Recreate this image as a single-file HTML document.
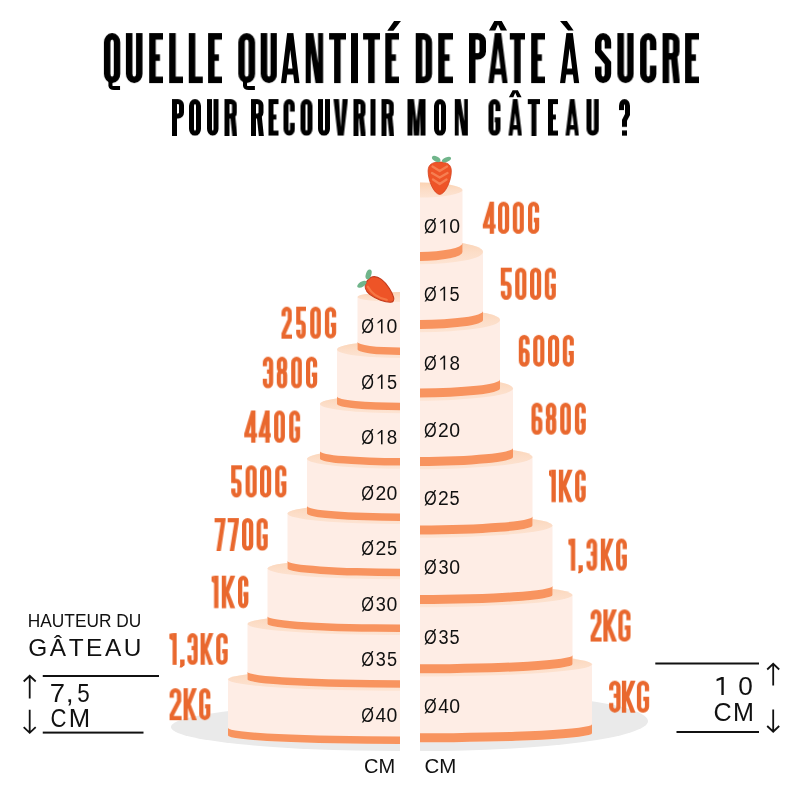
<!DOCTYPE html>
<html><head><meta charset="utf-8"><style>
html,body{margin:0;padding:0;background:#fff;}
svg{display:block;}
text{font-family:"Liberation Sans", sans-serif;}
svg{will-change:transform;}
</style></head><body>
<svg width="800" height="800" viewBox="0 0 800 800">
<rect width="800" height="800" fill="#fff"/>
<defs>
<clipPath id="cl"><rect x="0" y="0" width="400" height="800"/></clipPath>
<clipPath id="cr"><rect x="420" y="0" width="380" height="800"/></clipPath>
<linearGradient id="tg" x1="0" y1="0" x2="0" y2="1"><stop offset="0" stop-color="#fbd3b3"/><stop offset="0.5" stop-color="#fcddc7"/><stop offset="1" stop-color="#fde4d3"/></linearGradient>
</defs>
<g clip-path="url(#cl)"><ellipse cx="400" cy="727" rx="229" ry="24" fill="#eaeaea"/></g>
<g clip-path="url(#cr)"><ellipse cx="420" cy="721" rx="228" ry="30" fill="#eaeaea"/></g>
<g clip-path="url(#cl)">
<path d="M228.00 679.50 L228.00 735.60 A172.00 8.40 0 0 0 572.00 735.60 L572.00 679.50 A172.00 11.34 0 0 0 228.00 679.50Z" fill="#feede5"/>
<ellipse cx="400.00" cy="679.50" rx="172.00" ry="11.34" fill="url(#tg)"/>
<path d="M228.00 728.10 L228.00 735.60 A172.00 8.40 0 0 0 572.00 735.60 L572.00 728.10 A172.00 8.40 0 0 1 228.00 728.10Z" fill="#f8945f"/>
<path d="M247.50 624.00 L247.50 679.50 A152.50 8.20 0 0 0 552.50 679.50 L552.50 624.00 A152.50 11.07 0 0 0 247.50 624.00Z" fill="#feede5"/>
<ellipse cx="400.00" cy="624.00" rx="152.50" ry="11.07" fill="url(#tg)"/>
<path d="M247.50 672.00 L247.50 679.50 A152.50 8.20 0 0 0 552.50 679.50 L552.50 672.00 A152.50 8.20 0 0 1 247.50 672.00Z" fill="#f8945f"/>
<path d="M267.50 568.50 L267.50 624.00 A132.50 8.00 0 0 0 532.50 624.00 L532.50 568.50 A132.50 10.80 0 0 0 267.50 568.50Z" fill="#feede5"/>
<ellipse cx="400.00" cy="568.50" rx="132.50" ry="10.80" fill="url(#tg)"/>
<path d="M267.50 616.50 L267.50 624.00 A132.50 8.00 0 0 0 532.50 624.00 L532.50 616.50 A132.50 8.00 0 0 1 267.50 616.50Z" fill="#f8945f"/>
<path d="M287.50 513.60 L287.50 568.50 A112.50 7.70 0 0 0 512.50 568.50 L512.50 513.60 A112.50 10.40 0 0 0 287.50 513.60Z" fill="#feede5"/>
<ellipse cx="400.00" cy="513.60" rx="112.50" ry="10.40" fill="url(#tg)"/>
<path d="M287.50 561.00 L287.50 568.50 A112.50 7.70 0 0 0 512.50 568.50 L512.50 561.00 A112.50 7.70 0 0 1 287.50 561.00Z" fill="#f8945f"/>
<path d="M307.00 458.80 L307.00 513.60 A93.00 7.30 0 0 0 493.00 513.60 L493.00 458.80 A93.00 9.86 0 0 0 307.00 458.80Z" fill="#feede5"/>
<ellipse cx="400.00" cy="458.80" rx="93.00" ry="9.86" fill="url(#tg)"/>
<path d="M307.00 506.10 L307.00 513.60 A93.00 7.30 0 0 0 493.00 513.60 L493.00 506.10 A93.00 7.30 0 0 1 307.00 506.10Z" fill="#f8945f"/>
<path d="M320.00 404.00 L320.00 458.80 A80.00 6.80 0 0 0 480.00 458.80 L480.00 404.00 A80.00 9.18 0 0 0 320.00 404.00Z" fill="#feede5"/>
<ellipse cx="400.00" cy="404.00" rx="80.00" ry="9.18" fill="url(#tg)"/>
<path d="M320.00 451.30 L320.00 458.80 A80.00 6.80 0 0 0 480.00 458.80 L480.00 451.30 A80.00 6.80 0 0 1 320.00 451.30Z" fill="#f8945f"/>
<path d="M337.00 349.50 L337.00 404.00 A63.00 6.30 0 0 0 463.00 404.00 L463.00 349.50 A63.00 8.51 0 0 0 337.00 349.50Z" fill="#feede5"/>
<ellipse cx="400.00" cy="349.50" rx="63.00" ry="8.51" fill="url(#tg)"/>
<path d="M337.00 396.50 L337.00 404.00 A63.00 6.30 0 0 0 463.00 404.00 L463.00 396.50 A63.00 6.30 0 0 1 337.00 396.50Z" fill="#f8945f"/>
<path d="M357.50 297.00 L357.50 349.50 A42.50 5.50 0 0 0 442.50 349.50 L442.50 297.00 A42.50 5.00 0 0 0 357.50 297.00Z" fill="#feede5"/>
<ellipse cx="400.00" cy="297.00" rx="42.50" ry="5.00" fill="url(#tg)"/>
<path d="M357.50 342.00 L357.50 349.50 A42.50 5.50 0 0 0 442.50 349.50 L442.50 342.00 A42.50 5.50 0 0 1 357.50 342.00Z" fill="#f8945f"/>
</g>
<g clip-path="url(#cr)">
<path d="M248.00 664.30 L248.00 733.30 A172.00 9.00 0 0 0 592.00 733.30 L592.00 664.30 A172.00 12.15 0 0 0 248.00 664.30Z" fill="#feede5"/>
<ellipse cx="420.00" cy="664.30" rx="172.00" ry="12.15" fill="url(#tg)"/>
<path d="M248.00 724.30 L248.00 733.30 A172.00 9.00 0 0 0 592.00 733.30 L592.00 724.30 A172.00 9.00 0 0 1 248.00 724.30Z" fill="#f8945f"/>
<path d="M267.50 595.00 L267.50 664.30 A152.50 9.00 0 0 0 572.50 664.30 L572.50 595.00 A152.50 12.15 0 0 0 267.50 595.00Z" fill="#feede5"/>
<ellipse cx="420.00" cy="595.00" rx="152.50" ry="12.15" fill="url(#tg)"/>
<path d="M267.50 655.30 L267.50 664.30 A152.50 9.00 0 0 0 572.50 664.30 L572.50 655.30 A152.50 9.00 0 0 1 267.50 655.30Z" fill="#f8945f"/>
<path d="M287.50 525.50 L287.50 595.00 A132.50 9.00 0 0 0 552.50 595.00 L552.50 525.50 A132.50 12.15 0 0 0 287.50 525.50Z" fill="#feede5"/>
<ellipse cx="420.00" cy="525.50" rx="132.50" ry="12.15" fill="url(#tg)"/>
<path d="M287.50 586.00 L287.50 595.00 A132.50 9.00 0 0 0 552.50 595.00 L552.50 586.00 A132.50 9.00 0 0 1 287.50 586.00Z" fill="#f8945f"/>
<path d="M307.50 457.00 L307.50 525.50 A112.50 9.00 0 0 0 532.50 525.50 L532.50 457.00 A112.50 12.15 0 0 0 307.50 457.00Z" fill="#feede5"/>
<ellipse cx="420.00" cy="457.00" rx="112.50" ry="12.15" fill="url(#tg)"/>
<path d="M307.50 516.50 L307.50 525.50 A112.50 9.00 0 0 0 532.50 525.50 L532.50 516.50 A112.50 9.00 0 0 1 307.50 516.50Z" fill="#f8945f"/>
<path d="M327.00 388.50 L327.00 457.00 A93.00 9.00 0 0 0 513.00 457.00 L513.00 388.50 A93.00 12.15 0 0 0 327.00 388.50Z" fill="#feede5"/>
<ellipse cx="420.00" cy="388.50" rx="93.00" ry="12.15" fill="url(#tg)"/>
<path d="M327.00 448.00 L327.00 457.00 A93.00 9.00 0 0 0 513.00 457.00 L513.00 448.00 A93.00 9.00 0 0 1 327.00 448.00Z" fill="#f8945f"/>
<path d="M340.00 320.00 L340.00 388.50 A80.00 9.00 0 0 0 500.00 388.50 L500.00 320.00 A80.00 12.15 0 0 0 340.00 320.00Z" fill="#feede5"/>
<ellipse cx="420.00" cy="320.00" rx="80.00" ry="12.15" fill="url(#tg)"/>
<path d="M340.00 379.50 L340.00 388.50 A80.00 9.00 0 0 0 500.00 388.50 L500.00 379.50 A80.00 9.00 0 0 1 340.00 379.50Z" fill="#f8945f"/>
<path d="M357.00 252.00 L357.00 320.00 A63.00 9.00 0 0 0 483.00 320.00 L483.00 252.00 A63.00 12.15 0 0 0 357.00 252.00Z" fill="#feede5"/>
<ellipse cx="420.00" cy="252.00" rx="63.00" ry="12.15" fill="url(#tg)"/>
<path d="M357.00 311.00 L357.00 320.00 A63.00 9.00 0 0 0 483.00 320.00 L483.00 311.00 A63.00 9.00 0 0 1 357.00 311.00Z" fill="#f8945f"/>
<path d="M377.50 190.00 L377.50 252.00 A42.50 9.00 0 0 0 462.50 252.00 L462.50 190.00 A42.50 7.50 0 0 0 377.50 190.00Z" fill="#feede5"/>
<ellipse cx="420.00" cy="190.00" rx="42.50" ry="7.50" fill="url(#tg)"/>
<path d="M377.50 243.00 L377.50 252.00 A42.50 9.00 0 0 0 462.50 252.00 L462.50 243.00 A42.50 9.00 0 0 1 377.50 243.00Z" fill="#f8945f"/>
</g>
<g transform="translate(367.34 280.69) rotate(37)"><path d="M0 0 C0 -6.5 4.5 -9.5 10.5 -9.5 C18 -9.5 27 -5.5 31 -2.5 C33.5 -0.7 33.5 1.7 31.5 3.3 C27.5 6.5 18 9.5 10.5 9.5 C4.5 9.5 0 6.5 0 0Z" fill="#ee5427" stroke="#c23a1c" stroke-width="1.1"/><path d="M4 4.5 C11 7.5 20 7 27 3.5" fill="none" stroke="#f7824f" stroke-width="2.2" stroke-linecap="round" opacity="0.75"/></g>
<ellipse cx="368.6" cy="274.4" rx="2.7" ry="5.1" transform="rotate(18 368.6 274.4)" fill="#70b58b"/>
<ellipse cx="361.9" cy="284.2" rx="5.3" ry="2.6" transform="rotate(-32 361.9 284.2)" fill="#70b58b"/>
<path d="M439.7 162 C447 162 451.3 164.5 451.3 171 C451.3 181 445 194.4 439.7 194.4 C434.3 194.4 428.1 181 428.1 171 C428.1 164.5 432.4 162 439.7 162Z" fill="#ee5427" stroke="#d4421f" stroke-width="0.8"/>
<path d="M432.5 166.5 L439.7 171 L447 166.5 M432 173 L439.7 177.5 L447.5 173 M433 179.5 L439.7 184 L446.5 179.5" fill="none" stroke="#f7895c" stroke-width="2.3" stroke-linecap="round" stroke-linejoin="round" opacity="0.8"/>
<ellipse cx="436.2" cy="159" rx="4.6" ry="2.5" transform="rotate(28 436.2 159)" fill="#70b58b"/>
<ellipse cx="446.5" cy="159.6" rx="4.8" ry="2.3" transform="rotate(-22 446.5 159.6)" fill="#70b58b"/>
<svg x="103.9" y="33.1" width="16.35" height="50" overflow="hidden"><g fill="none" stroke="#000" stroke-width="6.5" stroke-linejoin="miter" stroke-miterlimit="10"><path d="M3.25 9.3 A4.92 6.05 0 0 1 13.1 9.3 V40.7 A4.92 6.05 0 0 1 3.25 40.7 Z"/></g></svg><path d="M110.44 80.6 V85.7 Q110.77 88 114.04 88 H120.05" fill="none" stroke="#000" stroke-width="4.03"/>
<svg x="125.9" y="33.1" width="16.6" height="50" overflow="hidden"><g fill="none" stroke="#000" stroke-width="6.5" stroke-linejoin="miter" stroke-miterlimit="10"><path d="M3.25 -6.5 V40.7 A5.05 6.05 0 0 0 13.35 40.7 V-6.5"/></g></svg>
<svg x="149.2" y="33.1" width="13.6" height="50" overflow="hidden"><g fill="none" stroke="#000" stroke-width="6.5" stroke-linejoin="miter" stroke-miterlimit="10"><path d="M20.1 3.25 H3.25 V46.75 H20.1"/><path d="M3.25 24.5 H10.74"/></g></svg>
<svg x="169.2" y="33.1" width="13.8" height="50" overflow="hidden"><g fill="none" stroke="#000" stroke-width="6.5" stroke-linejoin="miter" stroke-miterlimit="10"><path d="M3.25 -6.5 V46.75 H20.3"/></g></svg>
<svg x="188.8" y="33.1" width="13.7" height="50" overflow="hidden"><g fill="none" stroke="#000" stroke-width="6.5" stroke-linejoin="miter" stroke-miterlimit="10"><path d="M3.25 -6.5 V46.75 H20.2"/></g></svg>
<svg x="208.1" y="33.1" width="13.7" height="50" overflow="hidden"><g fill="none" stroke="#000" stroke-width="6.5" stroke-linejoin="miter" stroke-miterlimit="10"><path d="M20.2 3.25 H3.25 V46.75 H20.2"/><path d="M3.25 24.5 H10.82"/></g></svg>
<svg x="238.3" y="33.1" width="16.8" height="50" overflow="hidden"><g fill="none" stroke="#000" stroke-width="6.5" stroke-linejoin="miter" stroke-miterlimit="10"><path d="M3.25 9.3 A5.15 6.05 0 0 1 13.55 9.3 V40.7 A5.15 6.05 0 0 1 3.25 40.7 Z"/></g></svg><path d="M245.02 80.6 V85.7 Q245.36 88 248.72 88 H254.9" fill="none" stroke="#000" stroke-width="4.03"/>
<svg x="260.7" y="33.1" width="16.3" height="50" overflow="hidden"><g fill="none" stroke="#000" stroke-width="6.5" stroke-linejoin="miter" stroke-miterlimit="10"><path d="M3.25 -6.5 V40.7 A4.9 6.05 0 0 0 13.05 40.7 V-6.5"/></g></svg>
<svg x="281" y="33.1" width="18.5" height="50" overflow="hidden"><g fill="#000"><path fill-rule="evenodd" d="M0 50 L6.11 0 L12.39 0 L18.5 50 Z M6.24 41.5 L12.26 41.5 L13.3 50.01 L5.2 50.01 Z M6.97 35.5 L11.53 35.5 L9.25 16.83 Z"/></g></svg>
<svg x="305.7" y="33.1" width="17.4" height="50" overflow="hidden"><g fill="#000"><polygon points="0,0 7.66,0 12.35,30 12.35,0 17.4,0 17.4,50 9.74,50 5.05,20 5.05,50 0,50"/></g></svg>
<svg x="329.1" y="33.1" width="16.5" height="50" overflow="hidden"><g fill="none" stroke="#000" stroke-width="6.5" stroke-linejoin="miter" stroke-miterlimit="10"><path d="M-6.5 3.25 H23"/><path d="M8.25 0 V56.5"/></g></svg>
<svg x="351" y="33.1" width="7" height="50" overflow="hidden"><g fill="#000"><rect x="0" y="0" width="7" height="50"/></g></svg>
<svg x="363.1" y="33.1" width="16.6" height="50" overflow="hidden"><g fill="none" stroke="#000" stroke-width="6.5" stroke-linejoin="miter" stroke-miterlimit="10"><path d="M-6.5 3.25 H23.1"/><path d="M8.3 0 V56.5"/></g></svg>
<svg x="385.3" y="33.1" width="13.5" height="50" overflow="hidden"><g fill="none" stroke="#000" stroke-width="6.5" stroke-linejoin="miter" stroke-miterlimit="10"><path d="M20 3.25 H3.25 V46.75 H20"/><path d="M3.25 24.5 H10.67"/></g></svg><polygon points="394.07,21 400.96,21 393.4,30.75 387.32,30.75" fill="#000"/>
<svg x="415.75" y="33.1" width="16.35" height="50" overflow="hidden"><g fill="none" stroke="#000" stroke-width="6.5" stroke-linejoin="miter" stroke-miterlimit="10"><path d="M3.25 -6.5 V56.5"/><path d="M0 3.25 H8.18 A4.93 6.05 0 0 1 13.1 9.3 V40.7 A4.93 6.05 0 0 1 8.18 46.75 H0"/></g></svg>
<svg x="438.25" y="33.1" width="14.35" height="50" overflow="hidden"><g fill="none" stroke="#000" stroke-width="6.5" stroke-linejoin="miter" stroke-miterlimit="10"><path d="M20.85 3.25 H3.25 V46.75 H20.85"/><path d="M3.25 24.5 H11.34"/></g></svg>
<svg x="469" y="33.1" width="17" height="50" overflow="hidden"><g fill="none" stroke="#000" stroke-width="6.5" stroke-linejoin="miter" stroke-miterlimit="10"><path d="M3.25 56.5 V3.25 H8.5 A5.25 4.84 0 0 1 13.75 8.09 V18.41 A5.25 4.84 0 0 1 8.5 23.25 H3.25"/></g></svg>
<svg x="488.4" y="33.1" width="19.2" height="50" overflow="hidden"><g fill="#000"><path fill-rule="evenodd" d="M0 50 L6.34 0 L12.86 0 L19.2 50 Z M6.28 41.5 L12.92 41.5 L14 50.01 L5.2 50.01 Z M7.04 35.5 L12.16 35.5 L9.6 15.28 Z"/></g></svg><polygon points="488.98,30.5 494.26,21.1 501.74,21.1 507.02,30.5 500.69,30.5 498,24.48 495.31,30.5" fill="#000"/>
<svg x="509.8" y="33.1" width="15.2" height="50" overflow="hidden"><g fill="none" stroke="#000" stroke-width="6.5" stroke-linejoin="miter" stroke-miterlimit="10"><path d="M-6.5 3.25 H21.7"/><path d="M7.6 0 V56.5"/></g></svg>
<svg x="531.2" y="33.1" width="13.5" height="50" overflow="hidden"><g fill="none" stroke="#000" stroke-width="6.5" stroke-linejoin="miter" stroke-miterlimit="10"><path d="M20 3.25 H3.25 V46.75 H20"/><path d="M3.25 24.5 H10.67"/></g></svg>
<svg x="560" y="33.1" width="19.2" height="50" overflow="hidden"><g fill="#000"><path fill-rule="evenodd" d="M0 50 L6.34 0 L12.86 0 L19.2 50 Z M6.28 41.5 L12.92 41.5 L14 50.01 L5.2 50.01 Z M7.04 35.5 L12.16 35.5 L9.6 15.28 Z"/></g></svg><polygon points="560,21.1 566.91,21.1 573.63,30.5 568.06,30.5" fill="#000"/>
<svg x="595" y="33.1" width="16.2" height="50" overflow="hidden"><g fill="none" stroke="#000" stroke-width="6.5" stroke-linejoin="miter" stroke-miterlimit="10"><path d="M12.95 15.5 V9.3 A4.85 6.05 0 0 0 3.25 9.3 V18 L12.95 30 V40.7 A4.85 6.05 0 0 1 3.25 40.7 V33.5"/></g></svg>
<svg x="617.4" y="33.1" width="16.3" height="50" overflow="hidden"><g fill="none" stroke="#000" stroke-width="6.5" stroke-linejoin="miter" stroke-miterlimit="10"><path d="M3.25 -6.5 V40.7 A4.9 6.05 0 0 0 13.05 40.7 V-6.5"/></g></svg>
<svg x="640.1" y="33.1" width="16.3" height="50" overflow="hidden"><g fill="none" stroke="#000" stroke-width="6.5" stroke-linejoin="miter" stroke-miterlimit="10"><path d="M13.05 17 V9.3 A4.9 6.05 0 0 0 3.25 9.3 V40.7 A4.9 6.05 0 0 0 13.05 40.7 V32.5"/></g></svg>
<svg x="662.6" y="33.1" width="16.9" height="50" overflow="hidden"><g fill="none" stroke="#000" stroke-width="6.5" stroke-linejoin="miter" stroke-miterlimit="10"><path d="M3.25 56.5 V3.25 H8.45 A5.2 4.84 0 0 1 13.65 8.09 V18.41 A5.2 4.84 0 0 1 8.45 23.25 H3.25"/><path d="M11.37 23.25 L14.3 52"/></g></svg>
<svg x="685.1" y="33.1" width="13.7" height="50" overflow="hidden"><g fill="none" stroke="#000" stroke-width="6.5" stroke-linejoin="miter" stroke-miterlimit="10"><path d="M20.2 3.25 H3.25 V46.75 H20.2"/><path d="M3.25 24.5 H10.82"/></g></svg>
<svg x="172" y="99.1" width="12" height="36.6" overflow="hidden"><g fill="none" stroke="#000" stroke-width="5" stroke-linejoin="miter" stroke-miterlimit="10"><path d="M2.5 41.6 V2.5 H6 A3.5 3.48 0 0 1 9.5 5.98 V13.41 A3.5 3.48 0 0 1 6 16.9 H2.5"/></g></svg>
<svg x="189" y="99.1" width="12" height="36.6" overflow="hidden"><g fill="none" stroke="#000" stroke-width="5" stroke-linejoin="miter" stroke-miterlimit="10"><path d="M2.5 6.86 A3.5 4.36 0 0 1 9.5 6.86 V29.74 A3.5 4.36 0 0 1 2.5 29.74 Z"/></g></svg>
<svg x="207" y="99.1" width="11.5" height="36.6" overflow="hidden"><g fill="none" stroke="#000" stroke-width="5" stroke-linejoin="miter" stroke-miterlimit="10"><path d="M2.5 -5 V29.74 A3.25 4.36 0 0 0 9 29.74 V-5"/></g></svg>
<svg x="224.5" y="99.1" width="12.5" height="36.6" overflow="hidden"><g fill="none" stroke="#000" stroke-width="5" stroke-linejoin="miter" stroke-miterlimit="10"><path d="M2.5 41.6 V2.5 H6.25 A3.75 3.48 0 0 1 10 5.98 V13.41 A3.75 3.48 0 0 1 6.25 16.9 H2.5"/><path d="M8.25 16.9 L10.5 38.6"/></g></svg>
<svg x="251" y="99.1" width="12.5" height="36.6" overflow="hidden"><g fill="none" stroke="#000" stroke-width="5" stroke-linejoin="miter" stroke-miterlimit="10"><path d="M2.5 41.6 V2.5 H6.25 A3.75 3.48 0 0 1 10 5.98 V13.41 A3.75 3.48 0 0 1 6.25 16.9 H2.5"/><path d="M8.25 16.9 L10.5 38.6"/></g></svg>
<svg x="268.5" y="99.1" width="10" height="36.6" overflow="hidden"><g fill="none" stroke="#000" stroke-width="5" stroke-linejoin="miter" stroke-miterlimit="10"><path d="M15 2.5 H2.5 V34.1 H15"/><path d="M2.5 17.93 H7.9"/></g></svg>
<svg x="283.5" y="99.1" width="11.5" height="36.6" overflow="hidden"><g fill="none" stroke="#000" stroke-width="5" stroke-linejoin="miter" stroke-miterlimit="10"><path d="M9 12.44 V6.86 A3.25 4.36 0 0 0 2.5 6.86 V29.74 A3.25 4.36 0 0 0 9 29.74 V23.79"/></g></svg>
<svg x="300.5" y="99.1" width="12" height="36.6" overflow="hidden"><g fill="none" stroke="#000" stroke-width="5" stroke-linejoin="miter" stroke-miterlimit="10"><path d="M2.5 6.86 A3.5 4.36 0 0 1 9.5 6.86 V29.74 A3.5 4.36 0 0 1 2.5 29.74 Z"/></g></svg>
<svg x="318" y="99.1" width="12" height="36.6" overflow="hidden"><g fill="none" stroke="#000" stroke-width="5" stroke-linejoin="miter" stroke-miterlimit="10"><path d="M2.5 -5 V29.74 A3.5 4.36 0 0 0 9.5 29.74 V-5"/></g></svg>
<svg x="333.5" y="99.1" width="14.5" height="36.6" overflow="hidden"><g fill="#000"><polygon points="0,0 5.5,0 7.25,28.1 9,0 14.5,0 10.29,36.6 4.21,36.6"/></g></svg>
<svg x="353.5" y="99.1" width="12" height="36.6" overflow="hidden"><g fill="none" stroke="#000" stroke-width="5" stroke-linejoin="miter" stroke-miterlimit="10"><path d="M2.5 41.6 V2.5 H6 A3.5 3.48 0 0 1 9.5 5.98 V13.41 A3.5 3.48 0 0 1 6 16.9 H2.5"/><path d="M7.75 16.9 L10 38.6"/></g></svg>
<svg x="370.5" y="99.1" width="5" height="36.6" overflow="hidden"><g fill="#000"><rect x="0" y="0" width="5" height="36.6"/></g></svg>
<svg x="381.5" y="99.1" width="12.5" height="36.6" overflow="hidden"><g fill="none" stroke="#000" stroke-width="5" stroke-linejoin="miter" stroke-miterlimit="10"><path d="M2.5 41.6 V2.5 H6.25 A3.75 3.48 0 0 1 10 5.98 V13.41 A3.75 3.48 0 0 1 6.25 16.9 H2.5"/><path d="M8.25 16.9 L10.5 38.6"/></g></svg>
<svg x="407.5" y="99.1" width="18" height="36.6" overflow="hidden"><g fill="#000"><path fill-rule="evenodd" d="M0 0 H18 V36.6 H0 Z M6.48 0 L11.52 0 L9 21.96 Z M5 14.64 L6.3 36.61 L5 36.61 Z M13 14.64 L11.7 36.61 L13 36.61 Z"/></g></svg>
<svg x="434" y="99.1" width="12" height="36.6" overflow="hidden"><g fill="none" stroke="#000" stroke-width="5" stroke-linejoin="miter" stroke-miterlimit="10"><path d="M2.5 6.86 A3.5 4.36 0 0 1 9.5 6.86 V29.74 A3.5 4.36 0 0 1 2.5 29.74 Z"/></g></svg>
<svg x="454.8" y="99.1" width="13.2" height="36.6" overflow="hidden"><g fill="#000"><polygon points="0,0 5.81,0 9.37,21.96 9.37,0 13.2,0 13.2,36.6 7.39,36.6 3.83,14.64 3.83,36.6 0,36.6"/></g></svg>
<svg x="488.5" y="99.1" width="12" height="36.6" overflow="hidden"><g fill="none" stroke="#000" stroke-width="5" stroke-linejoin="miter" stroke-miterlimit="10"><path d="M9.5 12.08 V6.86 A3.5 4.36 0 0 0 2.5 6.86 V29.74 A3.5 4.36 0 0 0 9.5 29.74 V20.8 H6.24"/></g></svg>
<svg x="508.5" y="99.1" width="13.5" height="36.6" overflow="hidden"><g fill="#000"><path fill-rule="evenodd" d="M0 36.6 L4.46 0 L9.04 0 L13.5 36.6 Z M4.76 30.38 L8.74 30.38 L9.5 36.61 L4 36.61 Z M5.29 25.99 L8.21 25.99 L6.75 14.01 Z"/></g></svg><polygon points="508.9,97.2 512.62,90.32 517.88,90.32 521.6,97.2 517.14,97.2 515.25,92.79 513.36,97.2" fill="#000"/>
<svg x="527.8" y="99.1" width="12.2" height="36.6" overflow="hidden"><g fill="none" stroke="#000" stroke-width="5" stroke-linejoin="miter" stroke-miterlimit="10"><path d="M-5 2.5 H17.2"/><path d="M6.1 0 V41.6"/></g></svg>
<svg x="548" y="99.1" width="10" height="36.6" overflow="hidden"><g fill="none" stroke="#000" stroke-width="5" stroke-linejoin="miter" stroke-miterlimit="10"><path d="M15 2.5 H2.5 V34.1 H15"/><path d="M2.5 17.93 H7.9"/></g></svg>
<svg x="565.5" y="99.1" width="13.5" height="36.6" overflow="hidden"><g fill="#000"><path fill-rule="evenodd" d="M0 36.6 L4.46 0 L9.04 0 L13.5 36.6 Z M4.76 30.38 L8.74 30.38 L9.5 36.61 L4 36.61 Z M5.29 25.99 L8.21 25.99 L6.75 14.01 Z"/></g></svg>
<svg x="586.5" y="99.1" width="12.5" height="36.6" overflow="hidden"><g fill="none" stroke="#000" stroke-width="5" stroke-linejoin="miter" stroke-miterlimit="10"><path d="M2.5 -5 V29.74 A3.75 4.36 0 0 0 10 29.74 V-5"/></g></svg>
<svg x="619" y="99.1" width="11" height="36.6" overflow="hidden"><g fill="none" stroke="#000" stroke-width="5" stroke-linejoin="miter" stroke-miterlimit="10"><path d="M2.5 10.98 V6.86 A3 4.36 0 0 1 8.5 6.86 V15.37 L5.5 21.23 V27.82"/></g><g fill="#000"><rect x="3" y="31.35" width="5" height="5.25"/></g></svg>
<svg x="281.5" y="306.7" width="10.5" height="32" overflow="hidden"><g fill="none" stroke="#e9682e" stroke-width="4.27" stroke-linejoin="miter" stroke-miterlimit="10"><path d="M2.14 9.6 V5.97 A3.11 3.84 0 0 1 8.36 5.97 V12.8 L2.14 26.88 V29.86 H14.77"/></g></svg>
<svg x="296.2" y="306.7" width="9.7" height="32" overflow="hidden"><g fill="none" stroke="#e9682e" stroke-width="4.27" stroke-linejoin="miter" stroke-miterlimit="10"><path d="M13.97 2.14 H2.14 V17.71"/><path d="M2.14 15.58 H4.85 A2.71 3.84 0 0 1 7.56 19.41 V26.03 A2.71 3.84 0 0 1 2.14 26.03 V23.04"/></g></svg>
<svg x="310.2" y="306.7" width="10.8" height="32" overflow="hidden"><g fill="none" stroke="#e9682e" stroke-width="4.27" stroke-linejoin="miter" stroke-miterlimit="10"><path d="M2.14 5.97 A3.26 3.84 0 0 1 8.66 5.97 V26.03 A3.26 3.84 0 0 1 2.14 26.03 Z"/></g></svg>
<svg x="324.9" y="306.7" width="11.25" height="32" overflow="hidden"><g fill="none" stroke="#e9682e" stroke-width="4.27" stroke-linejoin="miter" stroke-miterlimit="10"><path d="M9.11 10.56 V5.97 A3.49 3.84 0 0 0 2.14 5.97 V26.03 A3.49 3.84 0 0 0 9.11 26.03 V18.14 H5.85"/></g></svg>
<svg x="262.8" y="356.7" width="10.4" height="31.6" overflow="hidden"><g fill="none" stroke="#e9682e" stroke-width="4.22" stroke-linejoin="miter" stroke-miterlimit="10"><path d="M2.11 9.48 V5.9 A3.09 3.79 0 0 1 8.29 5.9 V25.7 A3.09 3.79 0 0 1 2.11 25.7 V22.12"/><path d="M4.16 14.85 H8.29"/></g></svg>
<svg x="276.8" y="356.7" width="10.4" height="31.6" overflow="hidden"><g fill="none" stroke="#e9682e" stroke-width="4.22" stroke-linejoin="miter" stroke-miterlimit="10"><path d="M2.11 5.9 A3.09 3.79 0 0 1 8.29 5.9 V10.74 A3.09 3.79 0 0 1 2.11 10.74 Z"/><path d="M2.11 18.33 A3.09 3.79 0 0 1 8.29 18.33 V25.7 A3.09 3.79 0 0 1 2.11 25.7 Z"/></g></svg>
<svg x="291.2" y="356.7" width="10.8" height="31.6" overflow="hidden"><g fill="none" stroke="#e9682e" stroke-width="4.22" stroke-linejoin="miter" stroke-miterlimit="10"><path d="M2.11 5.9 A3.29 3.79 0 0 1 8.69 5.9 V25.7 A3.29 3.79 0 0 1 2.11 25.7 Z"/></g></svg>
<svg x="306" y="356.7" width="11.2" height="31.6" overflow="hidden"><g fill="none" stroke="#e9682e" stroke-width="4.22" stroke-linejoin="miter" stroke-miterlimit="10"><path d="M9.09 10.43 V5.9 A3.49 3.79 0 0 0 2.11 5.9 V25.7 A3.49 3.79 0 0 0 9.09 25.7 V17.91 H5.82"/></g></svg>
<svg x="244.25" y="410.5" width="12.85" height="32.4" overflow="hidden"><g fill="#e9682e"><rect x="6.94" y="0" width="4.32" height="32.4"/><polygon points="0,23.33 6.94,0 10.83,0 4.54,23.33"/><rect x="0" y="22.68" width="12.85" height="4.11"/></g></svg>
<svg x="258.6" y="410.5" width="12.4" height="32.4" overflow="hidden"><g fill="#e9682e"><rect x="6.7" y="0" width="4.32" height="32.4"/><polygon points="0,23.33 6.7,0 10.59,0 4.54,23.33"/><rect x="0" y="22.68" width="12.4" height="4.11"/></g></svg>
<svg x="274.1" y="410.5" width="10.9" height="32.4" overflow="hidden"><g fill="none" stroke="#e9682e" stroke-width="4.32" stroke-linejoin="miter" stroke-miterlimit="10"><path d="M2.16 6.05 A3.29 3.89 0 0 1 8.74 6.05 V26.35 A3.29 3.89 0 0 1 2.16 26.35 Z"/></g></svg>
<svg x="289.2" y="410.5" width="10.9" height="32.4" overflow="hidden"><g fill="none" stroke="#e9682e" stroke-width="4.32" stroke-linejoin="miter" stroke-miterlimit="10"><path d="M8.74 10.69 V6.05 A3.29 3.89 0 0 0 2.16 6.05 V26.35 A3.29 3.89 0 0 0 8.74 26.35 V18.36 H5.67"/></g></svg>
<svg x="231.2" y="465.3" width="10.4" height="32.2" overflow="hidden"><g fill="none" stroke="#e9682e" stroke-width="4.3" stroke-linejoin="miter" stroke-miterlimit="10"><path d="M14.7 2.15 H2.15 V17.82"/><path d="M2.15 15.67 H5.2 A3.05 3.86 0 0 1 8.25 19.54 V26.19 A3.05 3.86 0 0 1 2.15 26.19 V23.18"/></g></svg>
<svg x="245.6" y="465.3" width="11.2" height="32.2" overflow="hidden"><g fill="none" stroke="#e9682e" stroke-width="4.3" stroke-linejoin="miter" stroke-miterlimit="10"><path d="M2.15 6.01 A3.45 3.86 0 0 1 9.05 6.01 V26.19 A3.45 3.86 0 0 1 2.15 26.19 Z"/></g></svg>
<svg x="260" y="465.3" width="11.2" height="32.2" overflow="hidden"><g fill="none" stroke="#e9682e" stroke-width="4.3" stroke-linejoin="miter" stroke-miterlimit="10"><path d="M2.15 6.01 A3.45 3.86 0 0 1 9.05 6.01 V26.19 A3.45 3.86 0 0 1 2.15 26.19 Z"/></g></svg>
<svg x="275.2" y="465.3" width="11.2" height="32.2" overflow="hidden"><g fill="none" stroke="#e9682e" stroke-width="4.3" stroke-linejoin="miter" stroke-miterlimit="10"><path d="M9.05 10.63 V6.01 A3.45 3.86 0 0 0 2.15 6.01 V26.19 A3.45 3.86 0 0 0 9.05 26.19 V18.25 H5.82"/></g></svg>
<svg x="214.6" y="518.1" width="10.9" height="32.5" overflow="hidden"><g fill="none" stroke="#e9682e" stroke-width="4.34" stroke-linejoin="miter" stroke-miterlimit="10"><path d="M-4.34 2.17 H8.73 L3.6 35.5"/></g></svg>
<svg x="227.7" y="518.1" width="11.3" height="32.5" overflow="hidden"><g fill="none" stroke="#e9682e" stroke-width="4.34" stroke-linejoin="miter" stroke-miterlimit="10"><path d="M-4.34 2.17 H9.13 L3.73 35.5"/></g></svg>
<svg x="242" y="518.1" width="11.3" height="32.5" overflow="hidden"><g fill="none" stroke="#e9682e" stroke-width="4.34" stroke-linejoin="miter" stroke-miterlimit="10"><path d="M2.17 6.07 A3.48 3.9 0 0 1 9.13 6.07 V26.43 A3.48 3.9 0 0 1 2.17 26.43 Z"/></g></svg>
<svg x="256.6" y="518.1" width="11.3" height="32.5" overflow="hidden"><g fill="none" stroke="#e9682e" stroke-width="4.34" stroke-linejoin="miter" stroke-miterlimit="10"><path d="M9.13 10.72 V6.07 A3.48 3.9 0 0 0 2.17 6.07 V26.43 A3.48 3.9 0 0 0 9.13 26.43 V18.42 H5.88"/></g></svg>
<svg x="211.6" y="575.7" width="6.8" height="32.4" overflow="hidden"><g fill="#e9682e"><rect x="2.48" y="0" width="4.32" height="32.4"/><polygon points="0,0.65 2.78,0 2.78,7.78 0,5.51"/></g></svg>
<svg x="221.8" y="575.7" width="13.4" height="32.4" overflow="hidden"><g fill="#e9682e"><polygon points="0,0 4.32,0 4.32,11.66 8.58,0 13.4,0 7.1,16.2 13.4,32.4 8.58,32.4 4.32,20.09 4.32,32.4 0,32.4"/></g></svg>
<svg x="238" y="575.7" width="10.4" height="32.4" overflow="hidden"><g fill="none" stroke="#e9682e" stroke-width="4.32" stroke-linejoin="miter" stroke-miterlimit="10"><path d="M8.24 10.69 V6.05 A3.04 3.89 0 0 0 2.16 6.05 V26.35 A3.04 3.89 0 0 0 8.24 26.35 V18.36 H5.41"/></g></svg>
<svg x="169.4" y="633.1" width="7.4" height="31.8" overflow="hidden"><g fill="#e9682e"><rect x="3.16" y="0" width="4.24" height="31.8"/><polygon points="0,0.64 3.46,0 3.46,7.63 0,5.41"/></g></svg>
<polygon points="180.1,659.49 184.6,659.49 184.6,665.2 181.85,667.5 179.6,667.5 180.2,664.9" fill="#e9682e"/>
<svg x="187.4" y="633.1" width="10.4" height="31.8" overflow="hidden"><g fill="none" stroke="#e9682e" stroke-width="4.24" stroke-linejoin="miter" stroke-miterlimit="10"><path d="M2.12 9.54 V5.94 A3.08 3.82 0 0 1 8.28 5.94 V25.86 A3.08 3.82 0 0 1 2.12 25.86 V22.26"/><path d="M4.16 14.95 H8.28"/></g></svg>
<svg x="200.6" y="633.1" width="12.8" height="31.8" overflow="hidden"><g fill="#e9682e"><polygon points="0,0 4.24,0 4.24,11.45 8.19,0 12.8,0 6.78,15.9 12.8,31.8 8.19,31.8 4.24,19.72 4.24,31.8 0,31.8"/></g></svg>
<svg x="216.2" y="633.1" width="11.6" height="31.8" overflow="hidden"><g fill="none" stroke="#e9682e" stroke-width="4.24" stroke-linejoin="miter" stroke-miterlimit="10"><path d="M9.48 10.49 V5.94 A3.68 3.82 0 0 0 2.12 5.94 V25.86 A3.68 3.82 0 0 0 9.48 25.86 V18.02 H6.03"/></g></svg>
<svg x="169.6" y="688.2" width="11.6" height="31.9" overflow="hidden"><g fill="none" stroke="#e9682e" stroke-width="4.26" stroke-linejoin="miter" stroke-miterlimit="10"><path d="M2.13 9.57 V5.96 A3.67 3.83 0 0 1 9.47 5.96 V12.76 L2.13 26.8 V29.77 H15.86"/></g></svg>
<svg x="183.6" y="688.2" width="13.3" height="31.9" overflow="hidden"><g fill="#e9682e"><polygon points="0,0 4.26,0 4.26,11.48 8.51,0 13.3,0 7.05,15.95 13.3,31.9 8.51,31.9 4.26,19.78 4.26,31.9 0,31.9"/></g></svg>
<svg x="199.2" y="688.2" width="11.2" height="31.9" overflow="hidden"><g fill="none" stroke="#e9682e" stroke-width="4.26" stroke-linejoin="miter" stroke-miterlimit="10"><path d="M9.07 10.53 V5.96 A3.47 3.83 0 0 0 2.13 5.96 V25.94 A3.47 3.83 0 0 0 9.07 25.94 V18.08 H5.82"/></g></svg>
<svg x="482.8" y="201.7" width="12.8" height="32.2" overflow="hidden"><g fill="#e9682e"><rect x="6.91" y="0" width="4.3" height="32.2"/><polygon points="0,23.18 6.91,0 10.78,0 4.51,23.18"/><rect x="0" y="22.54" width="12.8" height="4.08"/></g></svg>
<svg x="498" y="201.7" width="11.2" height="32.2" overflow="hidden"><g fill="none" stroke="#e9682e" stroke-width="4.3" stroke-linejoin="miter" stroke-miterlimit="10"><path d="M2.15 6.01 A3.45 3.86 0 0 1 9.05 6.01 V26.19 A3.45 3.86 0 0 1 2.15 26.19 Z"/></g></svg>
<svg x="512.8" y="201.7" width="11.2" height="32.2" overflow="hidden"><g fill="none" stroke="#e9682e" stroke-width="4.3" stroke-linejoin="miter" stroke-miterlimit="10"><path d="M2.15 6.01 A3.45 3.86 0 0 1 9.05 6.01 V26.19 A3.45 3.86 0 0 1 2.15 26.19 Z"/></g></svg>
<svg x="528" y="201.7" width="11.2" height="32.2" overflow="hidden"><g fill="none" stroke="#e9682e" stroke-width="4.3" stroke-linejoin="miter" stroke-miterlimit="10"><path d="M9.05 10.63 V6.01 A3.45 3.86 0 0 0 2.15 6.01 V26.19 A3.45 3.86 0 0 0 9.05 26.19 V18.25 H5.82"/></g></svg>
<svg x="500.8" y="267.7" width="10.8" height="32.2" overflow="hidden"><g fill="none" stroke="#e9682e" stroke-width="4.3" stroke-linejoin="miter" stroke-miterlimit="10"><path d="M15.1 2.15 H2.15 V17.82"/><path d="M2.15 15.67 H5.4 A3.25 3.86 0 0 1 8.65 19.54 V26.19 A3.25 3.86 0 0 1 2.15 26.19 V23.18"/></g></svg>
<svg x="515.2" y="267.7" width="11.2" height="32.2" overflow="hidden"><g fill="none" stroke="#e9682e" stroke-width="4.3" stroke-linejoin="miter" stroke-miterlimit="10"><path d="M2.15 6.01 A3.45 3.86 0 0 1 9.05 6.01 V26.19 A3.45 3.86 0 0 1 2.15 26.19 Z"/></g></svg>
<svg x="530" y="267.7" width="11.2" height="32.2" overflow="hidden"><g fill="none" stroke="#e9682e" stroke-width="4.3" stroke-linejoin="miter" stroke-miterlimit="10"><path d="M2.15 6.01 A3.45 3.86 0 0 1 9.05 6.01 V26.19 A3.45 3.86 0 0 1 2.15 26.19 Z"/></g></svg>
<svg x="544.8" y="267.7" width="11.2" height="32.2" overflow="hidden"><g fill="none" stroke="#e9682e" stroke-width="4.3" stroke-linejoin="miter" stroke-miterlimit="10"><path d="M9.05 10.63 V6.01 A3.45 3.86 0 0 0 2.15 6.01 V26.19 A3.45 3.86 0 0 0 9.05 26.19 V18.25 H5.82"/></g></svg>
<svg x="518.8" y="334.9" width="10.8" height="31.8" overflow="hidden"><g fill="none" stroke="#e9682e" stroke-width="4.24" stroke-linejoin="miter" stroke-miterlimit="10"><path d="M8.68 9.54 V5.94 A3.28 3.82 0 0 0 2.12 5.94 V25.86 A3.28 3.82 0 0 0 8.68 25.86 V19.29 A3.28 3.82 0 0 0 2.12 19.29"/></g></svg>
<svg x="533.2" y="334.9" width="11.2" height="31.8" overflow="hidden"><g fill="none" stroke="#e9682e" stroke-width="4.24" stroke-linejoin="miter" stroke-miterlimit="10"><path d="M2.12 5.94 A3.48 3.82 0 0 1 9.08 5.94 V25.86 A3.48 3.82 0 0 1 2.12 25.86 Z"/></g></svg>
<svg x="548" y="334.9" width="11.2" height="31.8" overflow="hidden"><g fill="none" stroke="#e9682e" stroke-width="4.24" stroke-linejoin="miter" stroke-miterlimit="10"><path d="M2.12 5.94 A3.48 3.82 0 0 1 9.08 5.94 V25.86 A3.48 3.82 0 0 1 2.12 25.86 Z"/></g></svg>
<svg x="562.8" y="334.9" width="11.2" height="31.8" overflow="hidden"><g fill="none" stroke="#e9682e" stroke-width="4.24" stroke-linejoin="miter" stroke-miterlimit="10"><path d="M9.08 10.49 V5.94 A3.48 3.82 0 0 0 2.12 5.94 V25.86 A3.48 3.82 0 0 0 9.08 25.86 V18.02 H5.82"/></g></svg>
<svg x="531.5" y="402.7" width="10.9" height="32" overflow="hidden"><g fill="none" stroke="#e9682e" stroke-width="4.27" stroke-linejoin="miter" stroke-miterlimit="10"><path d="M8.76 9.6 V5.97 A3.31 3.84 0 0 0 2.14 5.97 V26.03 A3.31 3.84 0 0 0 8.76 26.03 V19.41 A3.31 3.84 0 0 0 2.14 19.41"/></g></svg>
<svg x="545.8" y="402.7" width="10.5" height="32" overflow="hidden"><g fill="none" stroke="#e9682e" stroke-width="4.27" stroke-linejoin="miter" stroke-miterlimit="10"><path d="M2.14 5.97 A3.11 3.84 0 0 1 8.36 5.97 V10.88 A3.11 3.84 0 0 1 2.14 10.88 Z"/><path d="M2.14 18.56 A3.11 3.84 0 0 1 8.36 18.56 V26.03 A3.11 3.84 0 0 1 2.14 26.03 Z"/></g></svg>
<svg x="560.2" y="402.7" width="10.8" height="32" overflow="hidden"><g fill="none" stroke="#e9682e" stroke-width="4.27" stroke-linejoin="miter" stroke-miterlimit="10"><path d="M2.14 5.97 A3.26 3.84 0 0 1 8.66 5.97 V26.03 A3.26 3.84 0 0 1 2.14 26.03 Z"/></g></svg>
<svg x="574.9" y="402.7" width="10.9" height="32" overflow="hidden"><g fill="none" stroke="#e9682e" stroke-width="4.27" stroke-linejoin="miter" stroke-miterlimit="10"><path d="M8.76 10.56 V5.97 A3.31 3.84 0 0 0 2.14 5.97 V26.03 A3.31 3.84 0 0 0 8.76 26.03 V18.14 H5.67"/></g></svg>
<svg x="549" y="469.7" width="6.8" height="32.4" overflow="hidden"><g fill="#e9682e"><rect x="2.48" y="0" width="4.32" height="32.4"/><polygon points="0,0.65 2.78,0 2.78,7.78 0,5.51"/></g></svg>
<svg x="558.9" y="469.7" width="13.7" height="32.4" overflow="hidden"><g fill="#e9682e"><polygon points="0,0 4.32,0 4.32,11.66 8.77,0 13.7,0 7.26,16.2 13.7,32.4 8.77,32.4 4.32,20.09 4.32,32.4 0,32.4"/></g></svg>
<svg x="575.1" y="469.7" width="10.7" height="32.4" overflow="hidden"><g fill="none" stroke="#e9682e" stroke-width="4.32" stroke-linejoin="miter" stroke-miterlimit="10"><path d="M8.54 10.69 V6.05 A3.19 3.89 0 0 0 2.16 6.05 V26.35 A3.19 3.89 0 0 0 8.54 26.35 V18.36 H5.56"/></g></svg>
<svg x="568.4" y="538.6" width="6.8" height="32.1" overflow="hidden"><g fill="#e9682e"><rect x="2.52" y="0" width="4.28" height="32.1"/><polygon points="0,0.64 2.82,0 2.82,7.7 0,5.46"/></g></svg>
<polygon points="578.48,565.24 582.8,565.24 582.8,571 580.16,573.3 578,573.3 578.58,570.7" fill="#e9682e"/>
<svg x="586.5" y="538.6" width="10.6" height="32.1" overflow="hidden"><g fill="none" stroke="#e9682e" stroke-width="4.28" stroke-linejoin="miter" stroke-miterlimit="10"><path d="M2.14 9.63 V5.99 A3.16 3.85 0 0 1 8.46 5.99 V26.11 A3.16 3.85 0 0 1 2.14 26.11 V22.47"/><path d="M4.24 15.09 H8.46"/></g></svg>
<svg x="600.85" y="538.6" width="12.85" height="32.1" overflow="hidden"><g fill="#e9682e"><polygon points="0,0 4.28,0 4.28,11.56 8.22,0 12.85,0 6.81,16.05 12.85,32.1 8.22,32.1 4.28,19.9 4.28,32.1 0,32.1"/></g></svg>
<svg x="616.1" y="538.6" width="10.85" height="32.1" overflow="hidden"><g fill="none" stroke="#e9682e" stroke-width="4.28" stroke-linejoin="miter" stroke-miterlimit="10"><path d="M8.71 10.59 V5.99 A3.28 3.85 0 0 0 2.14 5.99 V26.11 A3.28 3.85 0 0 0 8.71 26.11 V18.19 H5.64"/></g></svg>
<svg x="590.6" y="609.4" width="10.8" height="32.2" overflow="hidden"><g fill="none" stroke="#e9682e" stroke-width="4.3" stroke-linejoin="miter" stroke-miterlimit="10"><path d="M2.15 9.66 V6.01 A3.25 3.86 0 0 1 8.65 6.01 V12.88 L2.15 27.05 V30.05 H15.1"/></g></svg>
<svg x="603.4" y="609.4" width="13.6" height="32.2" overflow="hidden"><g fill="#e9682e"><polygon points="0,0 4.3,0 4.3,11.59 8.7,0 13.6,0 7.21,16.1 13.6,32.2 8.7,32.2 4.3,19.96 4.3,32.2 0,32.2"/></g></svg>
<svg x="618.4" y="609.4" width="12.2" height="32.2" overflow="hidden"><g fill="none" stroke="#e9682e" stroke-width="4.3" stroke-linejoin="miter" stroke-miterlimit="10"><path d="M10.05 10.63 V6.01 A3.95 3.86 0 0 0 2.15 6.01 V26.19 A3.95 3.86 0 0 0 10.05 26.19 V18.25 H6.34"/></g></svg>
<svg x="609.1" y="680.7" width="11.5" height="31.9" overflow="hidden"><g fill="none" stroke="#e9682e" stroke-width="4.26" stroke-linejoin="miter" stroke-miterlimit="10"><path d="M2.13 9.57 V5.96 A3.62 3.83 0 0 1 9.37 5.96 V25.94 A3.62 3.83 0 0 1 2.13 25.94 V22.33"/><path d="M4.6 14.99 H9.37"/></g></svg>
<svg x="621.9" y="680.7" width="13.6" height="31.9" overflow="hidden"><g fill="#e9682e"><polygon points="0,0 4.26,0 4.26,11.48 8.7,0 13.6,0 7.21,15.95 13.6,31.9 8.7,31.9 4.26,19.78 4.26,31.9 0,31.9"/></g></svg>
<svg x="636.9" y="680.7" width="12.2" height="31.9" overflow="hidden"><g fill="none" stroke="#e9682e" stroke-width="4.26" stroke-linejoin="miter" stroke-miterlimit="10"><path d="M10.07 10.53 V5.96 A3.97 3.83 0 0 0 2.13 5.96 V25.94 A3.97 3.83 0 0 0 10.07 25.94 V18.08 H6.34"/></g></svg>
<text transform="translate(361.33 333.40) scale(0.7866 1)" font-size="20.79" font-weight="normal" fill="#111">Ø</text><rect x="381.00" y="319.10" width="1.55" height="14.30" fill="#111"/><polygon points="381.40,319.10 377.60,322.25 377.60,323.70 381.40,321.00" fill="#111"/><text transform="translate(386.59 333.40) scale(0.9360 1)" font-size="20.79" font-weight="normal" fill="#111">0</text>
<text transform="translate(361.33 388.90) scale(0.7866 1)" font-size="20.79" font-weight="normal" fill="#111">Ø</text><rect x="381.00" y="374.60" width="1.55" height="14.30" fill="#111"/><polygon points="381.40,374.60 377.60,377.75 377.60,379.20 381.40,376.50" fill="#111"/><text transform="translate(386.97 388.90) scale(0.8727 1)" font-size="20.79" font-weight="normal" fill="#111">5</text>
<text transform="translate(361.33 444.30) scale(0.7866 1)" font-size="20.79" font-weight="normal" fill="#111">Ø</text><rect x="381.00" y="430.00" width="1.55" height="14.30" fill="#111"/><polygon points="381.40,430.00 377.60,433.15 377.60,434.60 381.40,431.90" fill="#111"/><text transform="translate(386.79 444.30) scale(0.9023 1)" font-size="20.79" font-weight="normal" fill="#111">8</text>
<text transform="translate(361.33 499.80) scale(0.7866 1)" font-size="20.79" font-weight="normal" fill="#111">Ø</text><text transform="translate(375.43 499.80) scale(0.9293 1)" font-size="20.79" font-weight="normal" fill="#111">2</text><text transform="translate(386.59 499.80) scale(0.9360 1)" font-size="20.79" font-weight="normal" fill="#111">0</text>
<text transform="translate(361.33 555.20) scale(0.7866 1)" font-size="20.79" font-weight="normal" fill="#111">Ø</text><text transform="translate(375.43 555.20) scale(0.9293 1)" font-size="20.79" font-weight="normal" fill="#111">2</text><text transform="translate(386.97 555.20) scale(0.8727 1)" font-size="20.79" font-weight="normal" fill="#111">5</text>
<text transform="translate(361.33 610.70) scale(0.7866 1)" font-size="20.79" font-weight="normal" fill="#111">Ø</text><text transform="translate(375.81 610.70) scale(0.8727 1)" font-size="20.79" font-weight="normal" fill="#111">3</text><text transform="translate(386.59 610.70) scale(0.9360 1)" font-size="20.79" font-weight="normal" fill="#111">0</text>
<text transform="translate(361.33 666.10) scale(0.7866 1)" font-size="20.79" font-weight="normal" fill="#111">Ø</text><text transform="translate(375.81 666.10) scale(0.8727 1)" font-size="20.79" font-weight="normal" fill="#111">3</text><text transform="translate(386.97 666.10) scale(0.8727 1)" font-size="20.79" font-weight="normal" fill="#111">5</text>
<text transform="translate(361.33 721.60) scale(0.7866 1)" font-size="20.79" font-weight="normal" fill="#111">Ø</text><text transform="translate(375.56 721.60) scale(0.9166 1)" font-size="20.79" font-weight="normal" fill="#111">4</text><text transform="translate(386.59 721.60) scale(0.9360 1)" font-size="20.79" font-weight="normal" fill="#111">0</text>
<text transform="translate(423.93 233.30) scale(0.7978 1)" font-size="20.49" font-weight="normal" fill="#111">Ø</text><rect x="443.60" y="219.20" width="1.55" height="14.10" fill="#111"/><polygon points="444.00,219.20 440.20,222.30 440.20,223.75 444.00,221.10" fill="#111"/><text transform="translate(449.19 233.30) scale(0.9493 1)" font-size="20.49" font-weight="normal" fill="#111">0</text>
<text transform="translate(423.93 300.80) scale(0.7978 1)" font-size="20.49" font-weight="normal" fill="#111">Ø</text><rect x="443.60" y="286.70" width="1.55" height="14.10" fill="#111"/><polygon points="444.00,286.70 440.20,289.80 440.20,291.25 444.00,288.60" fill="#111"/><text transform="translate(449.57 300.80) scale(0.8851 1)" font-size="20.49" font-weight="normal" fill="#111">5</text>
<text transform="translate(423.93 369.70) scale(0.7978 1)" font-size="20.49" font-weight="normal" fill="#111">Ø</text><rect x="443.60" y="355.60" width="1.55" height="14.10" fill="#111"/><polygon points="444.00,355.60 440.20,358.70 440.20,360.15 444.00,357.50" fill="#111"/><text transform="translate(449.39 369.70) scale(0.9151 1)" font-size="20.49" font-weight="normal" fill="#111">8</text>
<text transform="translate(423.93 436.75) scale(0.7978 1)" font-size="20.49" font-weight="normal" fill="#111">Ø</text><text transform="translate(438.03 436.75) scale(0.9425 1)" font-size="20.49" font-weight="normal" fill="#111">2</text><text transform="translate(449.19 436.75) scale(0.9493 1)" font-size="20.49" font-weight="normal" fill="#111">0</text>
<text transform="translate(423.93 505.40) scale(0.7978 1)" font-size="20.49" font-weight="normal" fill="#111">Ø</text><text transform="translate(438.03 505.40) scale(0.9425 1)" font-size="20.49" font-weight="normal" fill="#111">2</text><text transform="translate(449.57 505.40) scale(0.8851 1)" font-size="20.49" font-weight="normal" fill="#111">5</text>
<text transform="translate(423.93 573.60) scale(0.7978 1)" font-size="20.49" font-weight="normal" fill="#111">Ø</text><text transform="translate(438.41 573.60) scale(0.8851 1)" font-size="20.49" font-weight="normal" fill="#111">3</text><text transform="translate(449.19 573.60) scale(0.9493 1)" font-size="20.49" font-weight="normal" fill="#111">0</text>
<text transform="translate(423.93 643.50) scale(0.7978 1)" font-size="20.49" font-weight="normal" fill="#111">Ø</text><text transform="translate(438.41 643.50) scale(0.8851 1)" font-size="20.49" font-weight="normal" fill="#111">3</text><text transform="translate(449.57 643.50) scale(0.8851 1)" font-size="20.49" font-weight="normal" fill="#111">5</text>
<text transform="translate(423.93 712.50) scale(0.7978 1)" font-size="20.49" font-weight="normal" fill="#111">Ø</text><text transform="translate(438.16 712.50) scale(0.9296 1)" font-size="20.49" font-weight="normal" fill="#111">4</text><text transform="translate(449.19 712.50) scale(0.9493 1)" font-size="20.49" font-weight="normal" fill="#111">0</text>
<text transform="translate(363.98 772.50) scale(1.0365 1)" font-size="19.33" font-weight="normal" fill="#111" xml:space="preserve">CM</text>
<text transform="translate(424.56 772.50) scale(1.0583 1)" font-size="19.33" font-weight="normal" fill="#111" xml:space="preserve">CM</text>
<text transform="translate(27.78 627.20) scale(0.9689 1)" font-size="17.88" font-weight="normal" fill="#111" xml:space="preserve">HAUTEUR DU</text>
<text transform="scale(1.0000 1)" x="28.27 49.81 68.64 86.09 104.92 123.75" y="656.20" font-size="24.42" font-weight="normal" fill="#111" xml:space="preserve">GÂTEAU</text>
<text transform="translate(49.84 701.90) scale(1.0628 1)" font-size="25.87" font-weight="normal" fill="#111">7</text>
<text transform="translate(65.84 701.90) scale(1.1027 1)" font-size="25.87" font-weight="normal" fill="#111">,</text>
<text transform="translate(77.20 701.90) scale(0.8682 1)" font-size="25.87" font-weight="normal" fill="#111">5</text>
<text transform="translate(50.48 726.90) scale(0.8691 1)" font-size="25.44" font-weight="normal" fill="#111">C</text>
<text transform="translate(68.79 726.90) scale(1.0108 1)" font-size="25.44" font-weight="normal" fill="#111">M</text>
<rect x="42.75" y="675" width="116.25" height="2" fill="#111"/>
<rect x="42.75" y="731.6" width="100.75" height="2" fill="#111"/>
<path d="M29.7 676.0 V698.5 M23.7 681.5 L29.7 675.8 L35.7 681.5" fill="none" stroke="#111" stroke-width="1.8"/>
<path d="M29.7 709.7 V732.6 M23.7 727.1 L29.7 732.8 L35.7 727.1" fill="none" stroke="#111" stroke-width="1.8"/>
<rect x="655.3" y="662.5" width="103.7" height="2" fill="#111"/>
<rect x="676.5" y="731" width="82.5" height="2" fill="#111"/>
<polygon points="721.37,677.00 723.74,677.00 723.74,695.00 721.37,695.00 721.37,679.39 716.58,681.27 716.58,678.97" fill="#111"/><text transform="translate(738.27 695.00) scale(1.0000 1)" font-size="26.16" font-weight="normal" fill="#111">0</text>
<text transform="scale(1.0000 1)" x="713.47 733.12" y="721.30" font-size="25.15" font-weight="normal" fill="#111" xml:space="preserve">CM</text>
<path d="M773.2 664.0 V685.6 M767.2 669.5 L773.2 663.8 L779.2 669.5" fill="none" stroke="#111" stroke-width="1.8"/>
<path d="M773.2 709.6 V731.5 M767.2 726.0 L773.2 731.7 L779.2 726.0" fill="none" stroke="#111" stroke-width="1.8"/>
</svg>
</body></html>
